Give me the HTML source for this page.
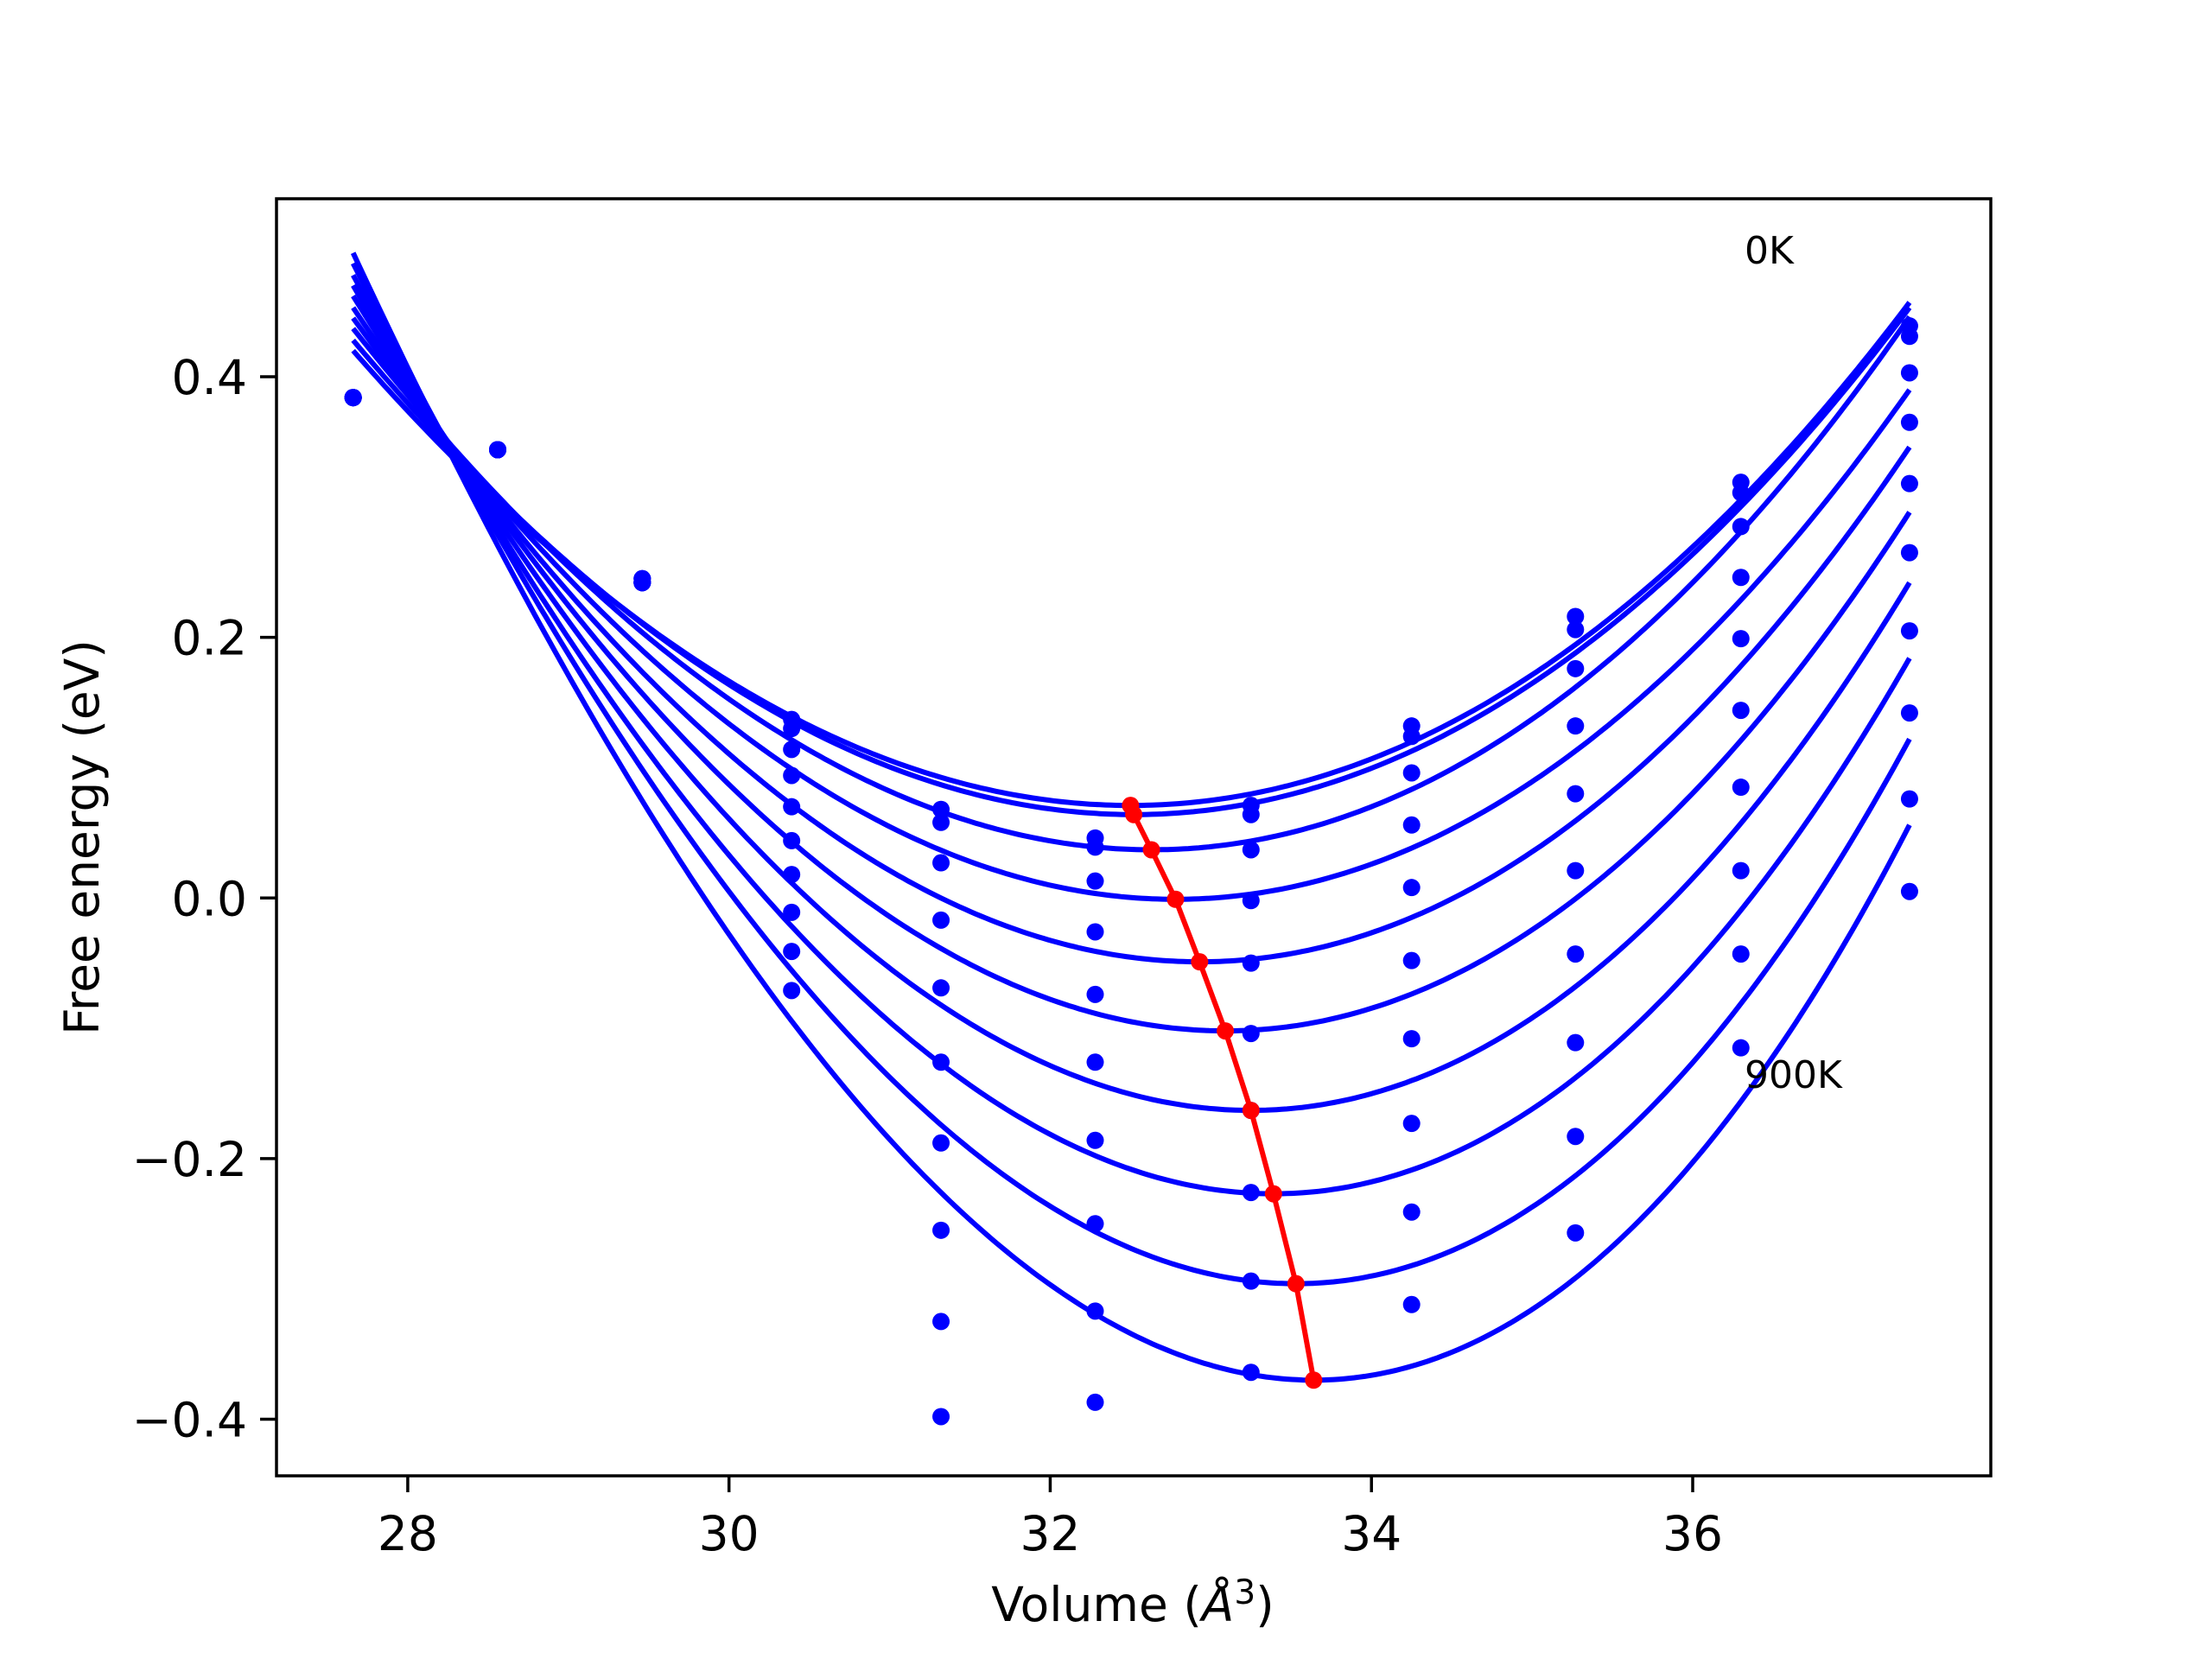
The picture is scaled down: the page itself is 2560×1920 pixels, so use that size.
<!DOCTYPE html>
<html><head><meta charset="utf-8"><style>
html,body{margin:0;padding:0;background:#fff;}
svg{display:block;font-family:"DejaVu Sans","Liberation Sans",sans-serif;}
</style></head><body>
<svg id="chart" width="2560" height="1920" viewBox="0 0 2560 1920">
<rect x="0" y="0" width="2560" height="1920" fill="#fff"/>
<g id="marks"></g>
<g id="axes"></g>
</svg>
<script>
const volumes=[27.66,28.56,29.46,30.39,31.32,32.28,33.25,34.25,35.27,36.30,37.35];
const temps=["0K","100K","200K","300K","400K","500K","600K","700K","800K","900K"];
const pts_27_66=[0.384,0.384,0.384,0.384,0.384,0.384,0.384,0.384,0.384,0.384];
const pts_28_56=[0.344,0.344,0.344,0.344,0.344,0.344,0.344,0.344,0.344,0.344];
const pts_29_46=[0.245,0.245,0.245,0.242,0.242,0.242,0.242,0.242,0.242,0.242];
const pts_30_39=[0.137,0.130,0.114,0.094,0.070,0.044,0.018,-0.011,-0.041,-0.071];
const pts_31_32=[0.068,0.058,0.027,-0.017,-0.069,-0.126,-0.188,-0.255,-0.325,-0.398];
const pts_32_28=[0.046,0.039,0.013,-0.026,-0.074,-0.126,-0.186,-0.250,-0.317,-0.387];
const pts_33_25=[0.071,0.064,0.037,-0.002,-0.050,-0.104,-0.163,-0.226,-0.294,-0.364];
const pts_34_25=[0.132,0.124,0.096,0.056,0.008,-0.048,-0.108,-0.173,-0.241,-0.312];
const pts_35_27=[0.216,0.206,0.176,0.132,0.080,0.021,-0.043,-0.111,-0.183,-0.257];
const pts_36_30=[0.319,0.311,0.285,0.246,0.199,0.144,0.085,0.021,-0.043,-0.115];
const pts_37_35=[0.439,0.431,0.403,0.365,0.318,0.265,0.205,0.142,0.076,0.005];
const minVol=[32.50,32.52,32.63,32.78,32.93,33.09,33.25,33.39,33.53,33.64];
const minE=[0.071,0.064,0.037,-0.001,-0.049,-0.102,-0.163,-0.227,-0.296,-0.370];
const leftE=[0.420,0.428,0.437,0.445,0.453,0.462,0.470,0.478,0.487,0.495];
const rightE=[0.457,0.453,0.446,0.390,0.346,0.296,0.242,0.184,0.122,0.056];
const xTicks=[28,30,32,34,36];
const yTicks=[-0.4,-0.2,0.0,0.2,0.4];
const yTickLabels=["\u22120.4","\u22120.2","0.0","0.2","0.4"];

const NS="http://www.w3.org/2000/svg";
const AX={l:320,r:2304,t:230,b:1708};
const X=v=>471.9+(v-28)*(1959-471.9)/8;
const Y=e=>436+(0.4-e)*(1642.5-436)/0.8;
const marks=document.getElementById('marks');
const axes=document.getElementById('axes');
function mk(tag,attrs,parent){const el=document.createElementNS(NS,tag);for(const k in attrs)el.setAttribute(k,attrs[k]);parent.appendChild(el);return el;}

const cp=mk('clipPath',{id:'clip'},marks);mk('rect',{x:AX.l,y:AX.t,width:AX.r-AX.l,height:AX.b-AX.t},cp);
const curveG=mk('g',{'clip-path':'url(#clip)'},marks);


temps.forEach((t,i)=>{
  const xm=minVol[i],ym=minE[i];
  const dl=volumes[0]-xm,dr=volumes[volumes.length-1]-xm;
  const L=leftE[i]-ym,R=rightE[i]-ym;
  const det=dl*dl*dr*dr*dr-dr*dr*dl*dl*dl;
  const a=(L*dr*dr*dr-R*dl*dl*dl)/det;
  const b=(dl*dl*R-dr*dr*L)/det;
  let d='';
  for(let k=0;k<=300;k++){
    const v=volumes[0]+(volumes[volumes.length-1]-volumes[0])*k/300;
    const dv=v-xm;const e=ym+a*dv*dv+b*dv*dv*dv;
    d+=(k?'L':'M')+X(v).toFixed(1)+','+Y(e).toFixed(1);
  }
  const p=mk('path',{d:d,fill:'none',stroke:'#0000ff','stroke-width':6},curveG);
  
  
});
const ptsAll=[pts_27_66,pts_28_56,pts_29_46,pts_30_39,pts_31_32,pts_32_28,pts_33_25,pts_34_25,pts_35_27,pts_36_30,pts_37_35];
volumes.forEach((v,j)=>{
  ptsAll[j].forEach((e,i)=>{
    const c=mk('circle',{cx:X(v),cy:Y(e),r:10,fill:'#0000ff'},marks);
    
    
  });
});
let rd='';minVol.forEach((v,i)=>{rd+=(i?'L':'M')+X(v)+','+Y(minE[i]);});
const rl=mk('path',{d:rd,fill:'none',stroke:'#ff0000','stroke-width':6},marks);


minVol.forEach((v,i)=>{
  const c=mk('circle',{cx:X(v),cy:Y(minE[i]),r:10,fill:'#ff0000'},marks);
  
  
});
const t0=mk('text',{x:2019,y:305,'font-size':44,fill:'#000'},marks);t0.textContent='0K';


const t9=mk('text',{x:2019,y:1259,'font-size':44,fill:'#000'},marks);t9.textContent='900K';


const fr=mk('rect',{x:AX.l,y:AX.t,width:AX.r-AX.l,height:AX.b-AX.t,fill:'none',stroke:'#000','stroke-width':3.5},axes);


xTicks.forEach(v=>{
  const x=X(v);
  const tk=mk('line',{x1:x,x2:x,y1:AX.b,y2:AX.b+19,stroke:'#000','stroke-width':3.5},axes);
  
  
  const tl=mk('text',{x:x,y:1794,'font-size':55,'text-anchor':'middle',fill:'#000'},axes);tl.textContent=String(v);
  
  
});
yTicks.forEach((e,i)=>{
  const y=Y(e);
  const tk=mk('line',{x1:AX.l-19,x2:AX.l,y1:y,y2:y,stroke:'#000','stroke-width':3.5},axes);
  
  
  const tl=mk('text',{x:AX.l-34,y:y+20,'font-size':55,'text-anchor':'end',fill:'#000'},axes);tl.textContent=yTickLabels[i];
  
  
});
const xt=mk('text',{x:1311,y:1876,'font-size':55,'text-anchor':'middle',fill:'#000'},axes);
xt.innerHTML='Volume (<tspan font-style="italic">Å</tspan><tspan dy="-20" font-size="39">3</tspan><tspan dy="20">)</tspan>';


const yt=mk('text',{x:0,y:0,'font-size':55,'text-anchor':'middle',fill:'#000',transform:'translate(114,969) rotate(-90)'},axes);
yt.textContent='Free energy (eV)';


</script>
</body></html>
